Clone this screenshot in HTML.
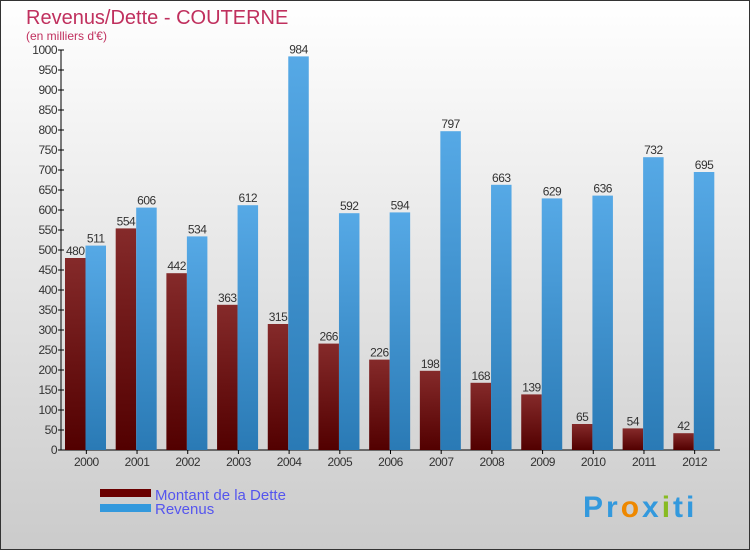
<!DOCTYPE html>
<html><head><meta charset="utf-8"><style>
body{margin:0}
#c{width:750px;height:550px;position:relative;overflow:hidden;font-family:"Liberation Sans",sans-serif}
</style></head><body>
<div id="c">
<svg id="s" width="750" height="550" xmlns="http://www.w3.org/2000/svg">
<defs>
<linearGradient id="bg" x1="0" y1="0" x2="0" y2="1"><stop offset="0" stop-color="#ffffff"/><stop offset="1" stop-color="#cbcbcb"/></linearGradient>
<linearGradient id="gd" x1="0" y1="0" x2="0" y2="1"><stop offset="0" stop-color="#852a2a"/><stop offset="1" stop-color="#520000"/></linearGradient>
<linearGradient id="gr" x1="0" y1="0" x2="0" y2="1"><stop offset="0" stop-color="#56a9e6"/><stop offset="1" stop-color="#2a7ab5"/></linearGradient>
</defs>
<rect x="0.5" y="0.5" width="749" height="549" fill="url(#bg)" stroke="#333"/>
<text x="26" y="24" font-size="20" fill="#c0305e">Revenus/Dette - COUTERNE</text>
<text x="26" y="40" font-size="12" fill="#c0305e">(en milliers d'€)</text>
<g id="plot"></g>
<g>
<rect x="100" y="489" width="51" height="8" fill="#6a0000"/>
<text x="155" y="500" font-size="15" fill="#5555ee">Montant de la Dette</text>
<rect x="100" y="504" width="51" height="8" fill="#3399dd"/>
<text x="155" y="514" font-size="15" fill="#5555ee">Revenus</text>
</g>
<text x="583" y="517" font-size="30" font-weight="bold" letter-spacing="3" fill="#3399dd"><tspan fill="#3399dd">Pr</tspan><tspan fill="#ee8800">o</tspan><tspan fill="#3399dd">x</tspan><tspan fill="#88bb22">i</tspan><tspan fill="#3399dd">ti</tspan></text>
</svg>
</div>
<script>
const years=["2000","2001","2002","2003","2004","2005","2006","2007","2008","2009","2010","2011","2012"];
const dette=[480,554,442,363,315,266,226,198,168,139,65,54,42];
const revenus=[511,606,534,612,984,592,594,797,663,629,636,732,695];
const ticks=[0,50,100,150,200,250,300,350,400,450,500,550,600,650,700,750,800,850,900,950,1000];
const NS="http://www.w3.org/2000/svg";
const g=document.getElementById('plot');
const x0=61,x1=720,yb=450,yt=50,vmax=1000;
const gw=(x1-x0)/years.length;
function y(v){return yb-(v/vmax)*(yb-yt);}
function el(t,a){const e=document.createElementNS(NS,t);for(const k in a)e.setAttribute(k,a[k]);g.appendChild(e);return e;}
let ax=el('line',{x1:x0,y1:yt,x2:x0,y2:yb,stroke:'#000'});


let bx=el('line',{x1:x0,y1:yb,x2:x1,y2:yb,stroke:'#000'});


ticks.forEach(t=>{
 let l=el('line',{x1:x0-3,y1:y(t),x2:x0+3,y2:y(t),stroke:'#000'});
 
 
 let tx=el('text',{x:x0-4,y:y(t)+4,'font-size':12,'text-anchor':'end',fill:'#333','letter-spacing':'-0.5'});
 tx.textContent=t;
 
 
});
years.forEach((yr,i)=>{
 const gx=x0+i*gw;
 const bw=20.5;
 const dx=gx+4,rx=gx+24.5;
 let b1=el('rect',{x:dx,y:y(dette[i]),width:bw,height:yb-y(dette[i]),fill:'url(#gd)'});
 
 
 let b2=el('rect',{x:rx,y:y(revenus[i]),width:bw,height:yb-y(revenus[i]),fill:'url(#gr)'});
 
 
 let t1=el('text',{x:dx+bw/2,y:y(dette[i])-3,'font-size':12,'text-anchor':'middle',fill:'#333','letter-spacing':'-0.5'});
 t1.textContent=dette[i];
 
 
 let t2=el('text',{x:rx+bw/2,y:y(revenus[i])-3,'font-size':12,'text-anchor':'middle',fill:'#333','letter-spacing':'-0.5'});
 t2.textContent=revenus[i];
 
 
 let tk=el('line',{x1:gx+gw/2,y1:yb,x2:gx+gw/2,y2:yb+4,stroke:'#000'});
 
 
 let xl=el('text',{x:gx+gw/2,y:yb+16,'font-size':12,'text-anchor':'middle',fill:'#333','letter-spacing':'-0.5'});
 xl.textContent=yr;
 
 
});
</script>
</body></html>
